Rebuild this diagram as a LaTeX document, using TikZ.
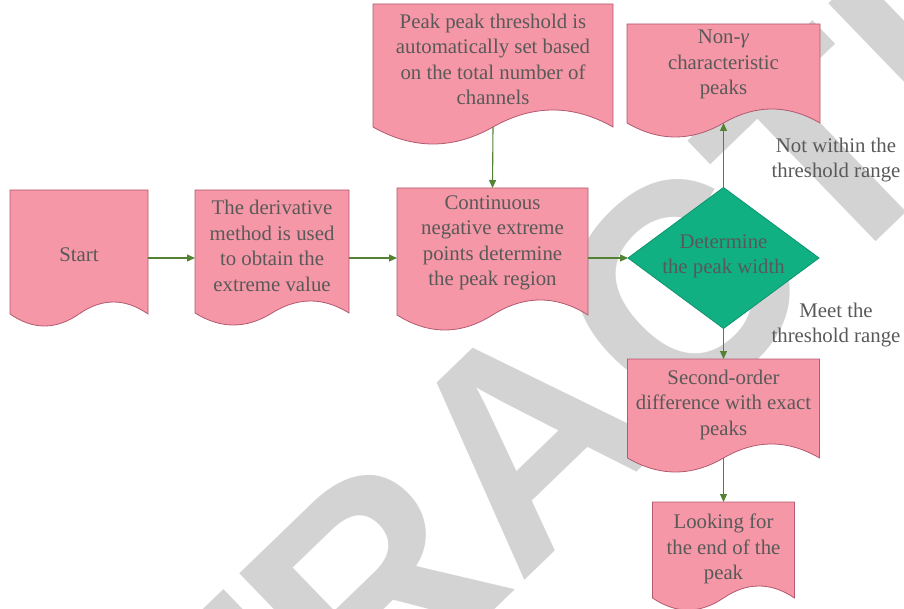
\documentclass[tikz,border=0pt]{standalone}
\usepackage{fontspec}
\setmainfont{Liberation Serif}
\newfontfamily\wmfont{Liberation Sans}
\usetikzlibrary{calc,shapes.geometric,arrows.meta}

\pgfdeclarelayer{wmark}
\pgfdeclarelayer{shapes}
\pgfsetlayers{wmark,shapes,main}

\definecolor{docfill}{HTML}{F597A6}
\definecolor{docline}{HTML}{B25A70}
\definecolor{decfill}{HTML}{10B082}
\definecolor{decline}{HTML}{0E9470}
\definecolor{flow}{HTML}{548235}
\definecolor{ink}{HTML}{595959}
\definecolor{wmgray}{HTML}{D3D3D3}

\tikzset{
  docbox/.style={rectangle, inner sep=0pt, outer sep=0pt},
  txt/.style={text=ink, font=\fontsize{20.8}{25.5}\selectfont, align=center, inner sep=0pt},
  decision/.style={diamond, fill=decfill, draw=decline, line width=0.8pt,
    minimum width=191pt, minimum height=141pt, inner sep=0pt, outer sep=0pt},
  flowarrow/.style={draw=flow, line width=1.1pt, -{Triangle[length=8pt,width=7pt]}},
  watermark/.style={text=wmgray, inner sep=0pt,
    font=\wmfont\bfseries\fontsize{295}{295}\selectfont}
}

% document symbol: straight top and sides, wavy bottom edge
\newcommand\docoutline[2]{%
  \begin{pgfonlayer}{shapes}
  \path[fill=docfill, draw=docline, line width=0.8pt]
    let \p1=(#1.north west), \p2=(#1.south east),
        \n1={(\x2-\x1)/6}, \n2={\x1/2+\x2/2}, \n3={4*#2/3}
    in (\p1) -- (\x2,\y1) -- (\p2)
       .. controls (\x2-\n1,\y2+\n3) and (\n2+\n1,\y2+\n3) .. (\n2,\y2)
       .. controls (\n2-\n1,\y2-\n3) and (\x1+\n1,\y2-\n3) .. (\x1,\y2) -- cycle;
  \end{pgfonlayer}}

\begin{document}
\begin{tikzpicture}[x=1pt,y=-1pt]
\useasboundingbox (0,0) rectangle (904,609);

\begin{pgfonlayer}{wmark}
  \node[watermark, rotate=44] (wm) at (526,438) {RETRACTED};
\end{pgfonlayer}

% boxes
\node[docbox, minimum width=138pt, minimum height=124pt] (start)  at (79,252)    {};
\node[docbox, minimum width=154pt, minimum height=123pt] (deriv)  at (272,251.5) {};
\node[docbox, minimum width=191pt, minimum height=127pt] (cont)   at (492.5,251.5) {};
\node[docbox, minimum width=240pt, minimum height=123pt] (peak)   at (493,65.5)  {};
\node[docbox, minimum width=193pt, minimum height=99pt]  (nong)   at (723.5,73.5) {};
\node[docbox, minimum width=192pt, minimum height=99pt]  (second) at (723.5,408.5) {};
\node[docbox, minimum width=142pt, minimum height=96pt]  (look)   at (723.5,550) {};
\node[decision] (dec) at (723.5,258) {};

\docoutline{start}{12pt}
\docoutline{deriv}{12pt}
\docoutline{cont}{15pt}
\docoutline{peak}{17pt}
\docoutline{nong}{14pt}
\docoutline{second}{14pt}
\docoutline{look}{12pt}

% texts
\node[txt] (start-t)  at (79,255)      {Start};
\node[txt] (deriv-t)  at (272,246)     {The derivative\\method is used\\to obtain the\\extreme value};
\node[txt] (cont-t)   at (492.5,243)   {Continuous\\negative extreme\\points determine\\the peak region};
\node[txt] (peak-t)   at (493,59.5)    {Peak peak threshold is\\automatically set based\\on the total number of\\channels};
\node[txt] (nong-t)   at (723.5,64.5)  {Non-\textit{γ}\\characteristic\\peaks};
\node[txt] (dec-t)    at (723.5,256.5) {Determine\\the peak width};
\node[txt] (second-t) at (723.5,404.5) {Second-order\\difference with exact\\peaks};
\node[txt] (look-t)   at (723.5,549)   {Looking for\\the end of the\\peak};

% branch labels
\node[txt] (no-t)  at (836,160) {Not within the\\threshold range};
\node[txt] (yes-t) at (836,325) {Meet the\\threshold range};

% connectors
\draw[flowarrow] (start.east |- dec.west) -- (deriv.west |- dec.west);
\draw[flowarrow] (deriv.east |- dec.west) -- (cont.west |- dec.west);
\draw[flowarrow] (cont.east |- dec.west) -- (dec.west);
\draw[flowarrow] (peak.south) -- (cont.north);
\draw[flowarrow] (dec.north) -- (nong.south);
\draw[flowarrow] (dec.south) -- (second.north);
\draw[flowarrow] (second.south) -- (look.north);
\end{tikzpicture}
\end{document}
